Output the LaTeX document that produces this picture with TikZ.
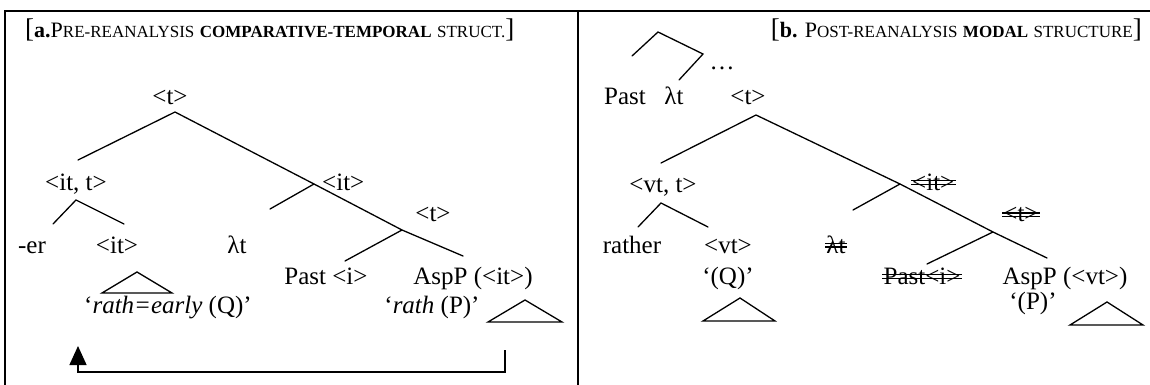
\documentclass[tikz,border=0pt]{standalone}
\usepackage{fontspec}
\setmainfont{Liberation Serif}
\usetikzlibrary{arrows.meta}
\newcommand{\smc}[1]{{\fontsize{17}{20}\selectfont #1}}
\newcommand{\bigbr}[1]{{\fontsize{27}{27}\selectfont #1}}
\newcommand{\dstrike}[1]{%
  \draw[strk] ([yshift=1pt,xshift=-1pt]#1.west) -- ([yshift=1pt,xshift=1pt]#1.east);
  \draw[strk] ([yshift=-2.6pt,xshift=-1pt]#1.west) -- ([yshift=-2.6pt,xshift=1pt]#1.east);}
\begin{document}
\begin{tikzpicture}[x=1pt,y=-1pt,
  lbl/.style={inner sep=0pt, anchor=base, font=\fontsize{25}{29}\selectfont},
  hdr/.style={inner sep=0pt, font=\fontsize{22}{26}\selectfont},
  br/.style={line width=1.3pt, line cap=round},
  frame/.style={line width=2pt},
  strk/.style={line width=1.3pt}]
\useasboundingbox (0,0) rectangle (1150,385);
% frame
\coordinate (fTL) at (5,11);
\coordinate (fTR) at (1150,11);
\coordinate (fBL) at (5,385);
\coordinate (dT) at (578,11);
\coordinate (dB) at (578,385);
\draw[frame] (fBL) -- (fTL) -- (fTR);
\draw[frame] (dT) -- (dB);

% ---------- panel a ----------
\node[hdr, anchor=base west] (hdrA) at (25,38) {\bigbr{[}\textbf{a.}P\smc{RE-REANALYSIS} \textbf{\smc{COMPARATIVE-TEMPORAL}} \smc{STRUCT.}\bigbr{]}};
\node[lbl] (tA) at (170,105) {<t>};
\coordinate (apA) at (175,112);
\coordinate (lA) at (78,160);
\coordinate (j1A) at (314,184);
\coordinate (j2A) at (402,230);
\coordinate (endA) at (463,256);
\draw[br] (lA) -- (apA) -- (j1A) -- (j2A) -- (endA);
\node[lbl] (ittA) at (76,190) {<it, t>};
\node[lbl, anchor=base west] (itA) at (322,190) {<it>};
\coordinate (lamEndA) at (270,209);
\draw[br] (j1A) -- (lamEndA);
\node[lbl] (tA2) at (433,221) {<t>};
\coordinate (pastEndA) at (345,261);
\draw[br] (j2A) -- (pastEndA);
\coordinate (sapA) at (76,200);
\coordinate (sLA) at (53,224);
\coordinate (sRA) at (124,224);
\draw[br] (sLA) -- (sapA) -- (sRA);
\node[lbl] (erA) at (32,253) {-er};
\node[lbl] (it2A) at (117,253) {<it>};
\node[lbl] (lamA) at (237,253) {λt};
\node[lbl] (pastA) at (326,284) {Past <i>};
\node[lbl] (aspA) at (473,284) {AspP (<it>)};
\coordinate (triLa) at (137,272);
\coordinate (triLb) at (102,293);
\coordinate (triLc) at (172,293);
\draw[br, line join=miter] (triLa) -- (triLb) -- (triLc) -- cycle;
\node[lbl] (qA) at (168,313) {‘\textit{rath=early} (Q)’};
\node[lbl] (pA) at (432,313) {‘\textit{rath} (P)’};
\coordinate (triRa) at (525,300);
\coordinate (triRb) at (488,322);
\coordinate (triRc) at (562,322);
\draw[br, line join=miter] (triRa) -- (triRb) -- (triRc) -- cycle;
% arrow
\coordinate (arS) at (505,350);
\coordinate (arC1) at (505,372);
\coordinate (arC2) at (78,372);
\coordinate (arE) at (78,346);
\draw[br, line cap=butt, -{Triangle[length=19pt,width=17pt]}] (arS) -- (arC1) -- (arC2) -- (arE);

% ---------- panel b ----------
\node[hdr, anchor=base east] (hdrB) at (1142,38) {\bigbr{[}\textbf{b.} P\smc{OST-REANALYSIS} \textbf{\smc{MODAL}} \smc{STRUCTURE}\bigbr{]}};
% small tree
\coordinate (sap) at (658,32);
\coordinate (sl) at (632,56);
\coordinate (sr) at (703,54);
\coordinate (slam) at (679,80);
\draw[br] (sl) -- (sap) -- (sr) -- (slam);
\node[lbl] (dots) at (722,70) {…};
\node[lbl] (pastB0) at (625,105) {Past};
\node[lbl] (lamB0) at (674,105) {λt};
\node[lbl] (tB) at (748,105) {<t>};
% main tree
\coordinate (apB) at (756,115);
\coordinate (lB) at (661,163);
\coordinate (j1B) at (900,184);
\coordinate (j2B) at (993,232);
\coordinate (endB) at (1047,258);
\draw[br] (lB) -- (apB) -- (j1B) -- (j2B) -- (endB);
\node[lbl] (vttB) at (663,192) {<vt, t>};
\node[lbl, anchor=base west] (itB) at (912,190) {<it>};
\dstrike{itB}
\coordinate (lamEndB) at (853,210);
\draw[br] (j1B) -- (lamEndB);
\node[lbl] (tB2) at (1021,221) {<t>};
\dstrike{tB2}
\coordinate (pastEndB) at (927,264);
\draw[br] (j2B) -- (pastEndB);
\coordinate (sapB) at (661,203);
\coordinate (sLB) at (638,227);
\coordinate (sRB) at (708,227);
\draw[br] (sLB) -- (sapB) -- (sRB);
\node[lbl] (ratherB) at (632,253) {rather};
\node[lbl] (vtB) at (728,253) {<vt>};
\node[lbl] (lamB) at (836,253) {λt};
\dstrike{lamB}
\node[lbl] (qB) at (728,284) {‘(Q)’};
\node[lbl] (pastB) at (922,284) {Past<i>};
\dstrike{pastB}
\node[lbl] (aspB) at (1065,284) {AspP (<vt>)};
\node[lbl] (pB) at (1033,309) {‘(P)’};
\coordinate (triQa) at (740,298);
\coordinate (triQb) at (703,321);
\coordinate (triQc) at (775,321);
\draw[br, line join=miter] (triQa) -- (triQb) -- (triQc) -- cycle;
\coordinate (triPa) at (1107,302);
\coordinate (triPb) at (1070,325);
\coordinate (triPc) at (1143,325);
\draw[br, line join=miter] (triPa) -- (triPb) -- (triPc) -- cycle;
\end{tikzpicture}
\end{document}
